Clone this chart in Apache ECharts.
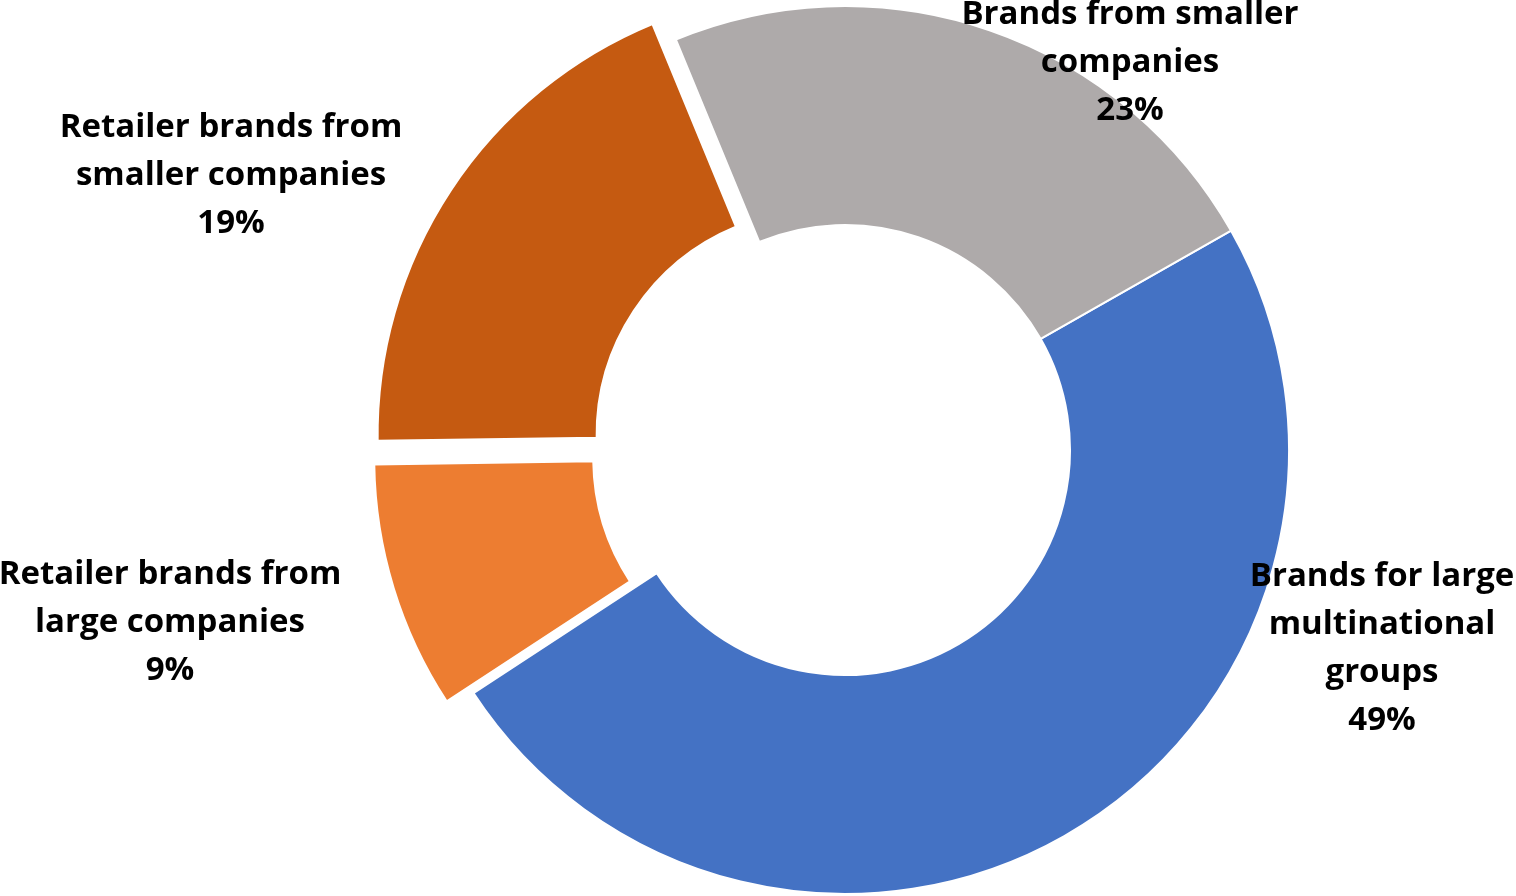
<!DOCTYPE html>
<html>
<head>
<meta charset="utf-8">
<script src="https://cdn.jsdelivr.net/npm/echarts@6/dist/echarts.min.js"></script>
<style>
  html, body { margin: 0; padding: 0; background: #ffffff; }
  #chart { width: 1516px; height: 896px; }
</style>
</head>
<body>
<div id="chart"></div>
<script>
// Data
const categories = [
  'Brands for large\nmultinational\ngroups',
  'Retailer brands from\nlarge companies',
  'Retailer brands from\nsmaller companies',
  'Brands from smaller\ncompanies'
];
const values = [49, 9, 19, 23];
const exploded = [false, true, true, false];

// Styles
const colors = ['#4472C4', '#ED7D31', '#C55A11', '#AEAAAA'];
const labelPos = [[1382, 649], [170, 623], [231, 176], [1130, 63]];

const chart = echarts.init(document.getElementById('chart'), null, { renderer: 'canvas' });

const data = categories.map((name, i) => ({
  name: name,
  value: values[i],
  selected: exploded[i],
  itemStyle: { color: colors[i], borderColor: '#ffffff', borderWidth: 2 },
  select: { itemStyle: { color: colors[i], borderColor: '#ffffff', borderWidth: 2 } }
}));

const labelGraphics = categories.map((name, i) => ({
  type: 'text',
  x: labelPos[i][0],
  y: labelPos[i][1],
  z: 100,
  silent: true,
  style: {
    text: name + '\n' + values[i] + '%',
    fill: '#000000',
    fontFamily: 'Open Sans',
    fontWeight: 'bold',
    fontSize: 33,
    lineHeight: 48,
    align: 'center',
    verticalAlign: 'middle'
  }
}));

chart.setOption({
  animation: false,
  backgroundColor: '#ffffff',
  graphic: { elements: labelGraphics },
  series: [{
    type: 'pie',
    center: [845, 450],
    radius: [225, 444],
    startAngle: 29.6,
    clockwise: true,
    selectedMode: 'multiple',
    selectedOffset: 28,
    emphasis: { disabled: true },
    label: { show: false },
    labelLine: { show: false },
    data: data
  }]
});
</script>
</body>
</html>
